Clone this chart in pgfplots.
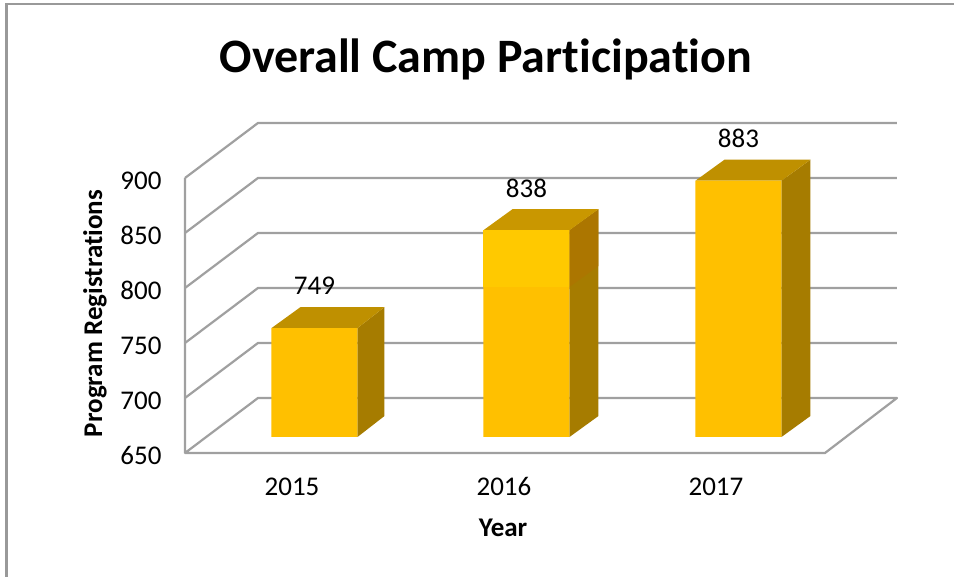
\documentclass[border=0pt]{standalone}
\usepackage{fontspec}
\setmainfont{Carlito}[Ligatures=NoCommon]
\usepackage{pgfplots}
\pgfplotsset{compat=1.18}
\definecolor{gridgray}{HTML}{A0A0A0}
\definecolor{framegray}{HTML}{999999}
\definecolor{barfront}{HTML}{FFC000}
\definecolor{barlight}{HTML}{FFC900}
\definecolor{bartop}{HTML}{BF9000}
\definecolor{bartoplight}{HTML}{C99700}
\definecolor{barside}{HTML}{A67C00}
\definecolor{barsidelight}{HTML}{AC7600}
\begin{document}
\begin{tikzpicture}[x=1pt,y=1pt]
\path[use as bounding box,fill=white] (-185,-124) rectangle (769,453);
\begin{axis}[
  at={(0,0)},anchor=south west,
  scale only axis,width=640pt,height=275pt,
  xmin=-0.5,xmax=2.519,ymin=650,ymax=900,
  clip=false,
  axis line style={draw=none},
  major tick length=0pt,
  xtick={0,1,2},xticklabels={2015,2016,2017},
  ytick={650,700,750,800,850,900},
  /pgf/number format/assume math mode=true,
  tick label style={font=\fontsize{27}{30}\selectfont,text height=17pt,text depth=0pt},
  xticklabel style={yshift=-22pt,xshift=1pt},
  yticklabel style={xshift=-20pt,yshift=-3pt},
  title={Overall Camp Participation},
  title style={at={(0.47,1.44)},anchor=center,yshift=-8pt,font=\fontsize{48}{52}\selectfont\bfseries},
  xlabel={Year},
  xlabel style={at={(0.497,-0.2727)},anchor=center,font=\fontsize{27}{30}\selectfont\bfseries},
  ylabel={Program Registrations},
  ylabel style={at={(-0.1406,0.507)},anchor=center,rotate=0,font=\fontsize{27}{30}\selectfont\bfseries},
]
% walls and floor
\pgfplotsset{wall/.style={draw=gridgray,line width=2.2pt,no marks,forget plot,line join=round}}
\addplot[wall] coordinates {(-0.5,900)(-0.1557,950)(2.8585,950)};
\addplot[wall] coordinates {(-0.5,850)(-0.1557,900)(2.8585,900)};
\addplot[wall] coordinates {(-0.5,800)(-0.1557,850)(2.8585,850)};
\addplot[wall] coordinates {(-0.5,750)(-0.1557,800)(2.8585,800)};
\addplot[wall] coordinates {(-0.5,700)(-0.1557,750)(2.8585,750)};
\addplot[wall] coordinates {(-0.5,650)(-0.1557,700)(2.8585,700)(2.519,650)(-0.5,650)(-0.5,900)};
% bars: side and top faces
\pgfplotsset{face/.style={draw=none,no marks,forget plot,xshift=23.5pt,yshift=16pt}}
\addplot[face,fill=barside] coordinates {(0.2028,650)(0.2028,749)(0.3302,768.1)(0.3302,669.1)} -- cycle;
\addplot[face,fill=bartop] coordinates {(-0.2028,749)(0.2028,749)(0.3302,768.1)(-0.0660,768.1)} -- cycle;
\addplot[face,fill=barside] coordinates {(1.2028,650)(1.2028,838)(1.3396,857.1)(1.3396,669.1)} -- cycle;
\addplot[face,fill=barsidelight] coordinates {(1.2028,786.4)(1.2028,838)(1.3396,857.1)(1.3396,805.5)} -- cycle;
\addplot[face,fill=bartoplight] coordinates {(0.7972,838)(1.2028,838)(1.3396,857.1)(0.9340,857.1)} -- cycle;
\addplot[face,fill=barside] coordinates {(2.2028,650)(2.2028,883)(2.3396,902.1)(2.3396,669.1)} -- cycle;
\addplot[face,fill=bartop] coordinates {(1.7972,883)(2.2028,883)(2.3396,902.1)(1.9340,902.1)} -- cycle;
% bars: front faces with value labels
\addplot[ybar,bar width=86pt,bar shift=0pt,fill=barfront,draw=none,xshift=23.5pt,yshift=16pt,
  nodes near coords,
  every node near coord/.append style={anchor=center,yshift=42pt,font=\fontsize{27}{30}\selectfont,/pgf/number format/assume math mode=true,text=black}]
  coordinates {(0,749)(1,838)(2,883)};
\addplot[face,fill=barlight] coordinates {(0.7972,786.4)(1.2028,786.4)(1.2028,838)(0.7972,838)} -- cycle;
\end{axis}
\draw[framegray,line width=2.2pt] (-178.5,-124) -- (-178.5,449) -- (769,449);
\end{tikzpicture}
\end{document}
